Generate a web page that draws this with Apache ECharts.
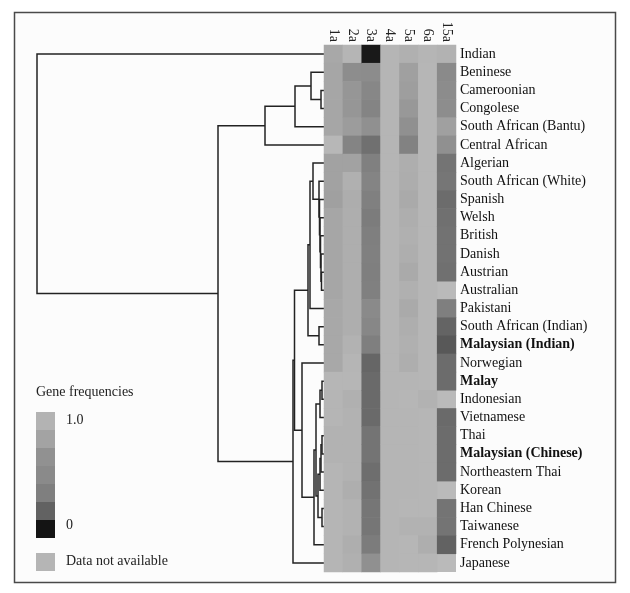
<!DOCTYPE html>
<html>
<head>
<meta charset="utf-8">
<script src="https://cdn.jsdelivr.net/npm/echarts@6/dist/echarts.min.js"></script>
<style>
  html, body { margin: 0; padding: 0; background: #fff; }
  #chart { width: 630px; height: 593px; }
</style>
</head>
<body>
<div id="chart"></div>
<script>
// rows, top to bottom (dendrogram leaf order)
const populations = [
  'Indian', 'Beninese', 'Cameroonian', 'Congolese', 'South African (Bantu)', 'Central African',
  'Algerian', 'South African (White)', 'Spanish', 'Welsh', 'British', 'Danish', 'Austrian',
  'Australian', 'Pakistani', 'South African (Indian)', 'Malaysian (Indian)', 'Norwegian',
  'Malay', 'Indonesian', 'Vietnamese', 'Thai', 'Malaysian (Chinese)', 'Northeastern Thai',
  'Korean', 'Han Chinese', 'Taiwanese', 'French Polynesian', 'Japanese'
]
const boldPops = ['Malaysian (Indian)', 'Malay', 'Malaysian (Chinese)']
const genes = ['1a', '2a', '3a', '4a', '5a', '6a', '15a']

// gene frequencies per column, same row order as populations (null = data not available)
const f1a = [0.86, 0.84, 0.84, 0.84, 0.84, 0.99, 0.81, 0.81, 0.79, 0.84, 0.84, 0.84, 0.84, 0.84, 0.86,
  0.86, 0.86, 0.86, 0.98, 0.97, 0.97, 0.95, 0.95, 0.97, 0.97, 0.97, 0.97, 0.97, 0.97]
const f2a = [0.97, 0.63, 0.70, 0.70, 0.76, 0.55, 0.81, 0.93, 0.90, 0.91, 0.91, 0.91, 0.91, 0.91, 0.91,
  0.91, 0.95, 0.97, 0.98, 0.93, 0.95, 0.95, 0.95, 0.95, 0.91, 0.95, 0.95, 0.91, 0.93]
const f3a = [0.02, 0.62, 0.57, 0.55, 0.65, 0.37, 0.51, 0.55, 0.51, 0.48, 0.50, 0.51, 0.50, 0.51, 0.60,
  0.57, 0.50, 0.29, 0.32, 0.32, 0.32, 0.41, 0.41, 0.36, 0.39, 0.43, 0.43, 0.48, 0.65]
const f4a = [0.97, 0.97, 0.97, 0.97, 0.97, 0.97, 0.97, 0.97, 0.97, 0.97, 0.97, 0.97, 0.97, 0.97, 0.97,
  0.97, 0.97, 0.97, 0.97, 0.97, 0.97, 0.97, 0.97, 0.97, 0.97, 0.97, 0.97, 0.97, 0.97]
const f5a = [0.93, 0.79, 0.77, 0.72, 0.65, 0.53, 0.91, 0.90, 0.88, 0.91, 0.93, 0.91, 0.88, 0.93, 0.88,
  0.91, 0.93, 0.91, 0.97, 0.98, 0.97, 0.97, 0.97, 0.97, 0.97, 0.98, 0.95, 0.98, 0.98]
const f6a = [0.97, 0.98, 0.98, 0.98, 0.98, 0.98, 0.98, 0.98, 0.98, 0.98, 0.98, 0.98, 0.98, 0.98, 0.98,
  0.98, 0.98, 0.98, 0.98, 0.95, 0.98, 0.98, 0.98, 0.98, 0.98, 0.98, 0.95, 0.91, 0.98]
const f15a = [0.95, 0.60, 0.62, 0.63, 0.79, 0.65, 0.41, 0.43, 0.34, 0.37, 0.39, 0.39, 0.37, null, 0.50,
  0.27, 0.19, 0.34, 0.34, null, 0.32, 0.34, 0.34, 0.34, null, 0.41, 0.41, 0.25, null]
const freqs = [f1a, f2a, f3a, f4a, f5a, f6a, f15a]

// cluster merges: [left, right, height]; a string is a leaf, a number is an earlier merge
const merges = [
  ['Cameroonian', 'Congolese', 0.3],          // 0
  ['Beninese', 0, 1.3],                        // 1
  [1, 'South African (Bantu)', 2.9],           // 2
  [2, 'Central African', 5.9],                 // 3
  ['Austrian', 'Australian', 0.25],            // 4
  ['Danish', 4, 0.3],                          // 5
  ['British', 5, 0.35],                        // 6
  ['Welsh', 6, 0.4],                           // 7
  ['Spanish', 7, 0.45],                        // 8
  ['South African (White)', 8, 0.5],           // 9
  ['Algerian', 9, 1.1],                        // 10
  [10, 'Pakistani', 1.4],                      // 11
  ['South African (Indian)', 'Malaysian (Indian)', 0.5], // 12
  [11, 12, 1.6],                               // 13
  ['Malay', 'Indonesian', 0.2],                // 14
  [14, 'Vietnamese', 0.4],                     // 15
  ['Thai', 'Malaysian (Chinese)', 0.2],        // 16
  [16, 'Northeastern Thai', 0.3],              // 17
  [17, 'Korean', 0.4],                         // 18
  ['Han Chinese', 'Taiwanese', 0.2],           // 19
  [18, 19, 0.6],                               // 20
  [15, 20, 0.8],                               // 21
  [21, 'French Polynesian', 1.0],              // 22
  ['Norwegian', 22, 2.2],                      // 23
  [13, 23, 2.95],                              // 24
  [24, 'Japanese', 3.1],                       // 25
  [3, 25, 10.6],                               // 26
  ['Indian', 26, 28.7]                         // 27
]

const legendColors = ['#b3b3b3', '#a3a3a3', '#919191', '#8a8a8a', '#7f7f7f', '#626262', '#141414']
const serif = '"Liberation Serif", "DejaVu Serif", serif'

// dendrogram segments from the merge list
const nodes = []
const nodeOf = ref => typeof ref === 'string' ? { y: populations.indexOf(ref), h: 0 } : nodes[ref]
const dendroData = merges.map(m => {
  const a = nodeOf(m[0])
  const b = nodeOf(m[1])
  nodes.push({ y: (a.y + b.y) / 2, h: m[2] })
  return [m[2], a.y, b.y, a.h, b.h]
})

const heatData = []
freqs.forEach((col, gi) => {
  col.forEach((v, ri) => {
    heatData.push([gi, ri, v === null ? '-' : v])
  })
})

const chart = echarts.init(document.getElementById('chart'))
chart.setOption({
  animation: false,
  backgroundColor: '#ffffff',
  grid: [
    { left: 37, width: 287, top: 45, height: 527 },
    { left: 324, width: 132, top: 45, height: 527, show: true, backgroundColor: '#bababa', borderWidth: 0 }
  ],
  xAxis: [
    { type: 'value', gridIndex: 0, min: 0, max: 28.7, inverse: true, show: false },
    {
      type: 'category',
      gridIndex: 1,
      data: genes,
      position: 'top',
      axisLine: { show: false },
      axisTick: { show: false },
      splitLine: { show: false },
      axisLabel: { interval: 0, rotate: 90, margin: 3, color: '#222', fontSize: 14, fontFamily: serif }
    }
  ],
  yAxis: [
    { type: 'value', gridIndex: 0, min: -0.5, max: 28.5, inverse: true, show: false },
    {
      type: 'category',
      gridIndex: 1,
      data: populations,
      inverse: true,
      position: 'right',
      axisLine: { show: false },
      axisTick: { show: false },
      splitLine: { show: false },
      axisLabel: {
        interval: 0,
        hideOverlap: false,
        margin: 4,
        color: '#111',
        fontSize: 14,
        fontFamily: serif,
        formatter: v => boldPops.includes(v) ? '{b|' + v + '}' : v,
        rich: { b: { fontWeight: 'bold', fontSize: 14, fontFamily: serif, color: '#111' } }
      }
    }
  ],
  visualMap: {
    type: 'continuous',
    show: false,
    seriesIndex: 1,
    min: 0,
    max: 1,
    inRange: { color: ['#111111', '#5c5c5c', '#737373', '#8a8a8a', '#a1a1a1', '#b8b8b8'] }
  },
  series: [
    {
      type: 'custom',
      xAxisIndex: 0,
      yAxisIndex: 0,
      data: dendroData,
      encode: { x: [0, 3, 4], y: [1, 2] },
      silent: true,
      renderItem (params, api) {
        const h = api.value(0)
        const ya = api.value(1)
        const yb = api.value(2)
        const ha = api.value(3)
        const hb = api.value(4)
        return {
          type: 'polyline',
          shape: { points: [api.coord([ha, ya]), api.coord([h, ya]), api.coord([h, yb]), api.coord([hb, yb])] },
          style: { stroke: '#222', lineWidth: 1.5, fill: null }
        }
      }
    },
    {
      type: 'heatmap',
      xAxisIndex: 1,
      yAxisIndex: 1,
      data: heatData,
      silent: true,
      itemStyle: { borderWidth: 0 }
    }
  ],
  graphic: [
    {
      type: 'rect',
      z: -10,
      shape: { x: 14.5, y: 12.5, width: 601, height: 570 },
      style: { fill: '#fcfcfc', stroke: '#4a4a4a', lineWidth: 1.5 }
    },
    {
      type: 'text',
      left: 36,
      top: 385,
      style: { text: 'Gene frequencies', fill: '#222', font: '14px ' + serif }
    },
    ...legendColors.map((c, i) => ({
      type: 'rect',
      shape: { x: 36, y: 412 + i * 18, width: 19, height: 18 },
      style: { fill: c }
    })),
    {
      type: 'text',
      left: 66,
      top: 413,
      style: { text: '1.0', fill: '#222', font: '14px ' + serif }
    },
    {
      type: 'text',
      left: 66,
      top: 518,
      style: { text: '0', fill: '#222', font: '14px ' + serif }
    },
    {
      type: 'rect',
      shape: { x: 36, y: 553, width: 19, height: 18 },
      style: { fill: '#b5b5b5' }
    },
    {
      type: 'text',
      left: 66,
      top: 554,
      style: { text: 'Data not available', fill: '#222', font: '14px ' + serif }
    }
  ]
})
</script>
</body>
</html>
